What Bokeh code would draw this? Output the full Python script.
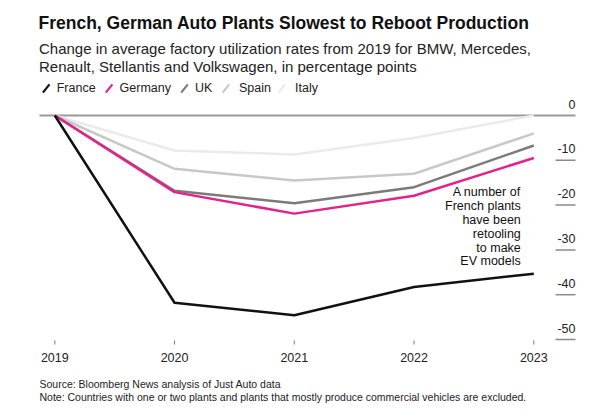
from bokeh.plotting import figure
from bokeh.models import (ColumnDataSource, Label, Legend, LegendItem, Range1d, Arrow)
from bokeh.core.properties import value
from bokeh.embed import file_html
from bokeh.resources import INLINE

# ---- data ----
years = [2019, 2020, 2021, 2022, 2023]
year_labels = ["2019", "2020", "2021", "2022", "2023"]
france = [0, -41.8, -44.6, -38.3, -35.3]
germany = [0, -17.1, -21.9, -17.9, -9.5]
uk = [0, -16.8, -19.6, -16.0, -6.7]
spain = [0, -11.9, -14.5, -13.0, -4.0]
italy = [0, -7.8, -8.7, -5.0, 0.0]
y_ticks = [0, -10, -20, -30, -40, -50]
y_tick_labels = ["0", "-10", "-20", "-30", "-40", "-50"]

series = [
    ("Italy", italy, "#ebebeb"),
    ("Spain", spain, "#c8c8c8"),
    ("UK", uk, "#7b7b7b"),
    ("Germany", germany, "#e2238c"),
    ("France", france, "#111111"),
]
colors = {n: c for n, _, c in series}

FONT = "Liberation Sans, Arial, sans-serif"

W, H = 613, 416
# pixel geometry of the plotting area
x0_px, ppy = 54.3, 119.75      # screen x of 2019, px per year
y0_px, ppu = 115.0, 4.48       # screen y of zero, px per percentage point
left_px, right_px = 39.0, 575.0
axis_px = 340.0

def xd(px):
    return 2019 + (px - x0_px) / ppy

def yd(px):
    return -(px - y0_px) / ppu

p = figure(width=W, height=H, output_backend="svg", toolbar_location=None,
           x_range=Range1d(xd(0), xd(W)), y_range=Range1d(yd(H), yd(0)),
           min_border=0, min_border_left=0, min_border_right=0,
           min_border_top=0, min_border_bottom=0, outline_line_color=None,
           background_fill_color="white", border_fill_color="white")
p.grid.visible = False
p.xaxis.visible = False
p.yaxis.visible = False

x_left, x_right = xd(left_px), xd(right_px)
y_axis = yd(axis_px)

# zero line
p.segment(x0=[x_left], y0=[0], x1=[x_right], y1=[0], line_color="#9a9a9a",
          line_width=1.8)

# y tick stubs and labels
stub_src = ColumnDataSource(dict(y=y_ticks[1:],
                                 x0=[xd(right_px - 20)] * (len(y_ticks) - 1),
                                 x1=[x_right] * (len(y_ticks) - 1)))
p.segment(x0="x0", y0="y", x1="x1", y1="y", source=stub_src,
          line_color="#8a8a8a", line_width=1.5)
lab_src = ColumnDataSource(dict(y=y_ticks, t=y_tick_labels, x=[x_right] * len(y_ticks)))
p.text(x="x", y="y", text="t", source=lab_src, text_align="right",
       text_baseline="alphabetic", y_offset=-11.5, text_font=value(FONT),
       text_font_size="12.5px", text_color="#222222")

# x axis ticks and labels
xt_src = ColumnDataSource(dict(x=years, t=year_labels,
                               y0=[y_axis] * len(years),
                               y1=[yd(axis_px + 4)] * len(years)))
p.segment(x0="x", y0="y0", x1="x", y1="y1", source=xt_src,
          line_color="#777777", line_width=1)
p.text(x="x", y="y0", text="t", source=xt_src, text_align="center",
       text_baseline="middle", y_offset=17, text_font=value(FONT),
       text_font_size="12.5px", text_color="#222222")

legend_items = {}
for name, vals, color in series:
    src = ColumnDataSource(dict(x=years, y=vals))
    p.line("x", "y", source=src, line_color=color, line_width=2.5,
           line_join="round")
    sc = p.scatter("x", "y", source=src, marker="dash", size=8,
                   line_color=color, line_alpha=0, fill_color=None, visible=False)
    legend_items[name] = sc

order = ["France", "Germany", "UK", "Spain", "Italy"]
legend_cy = 88
legend = Legend(items=[LegendItem(label=n, renderers=[legend_items[n]]) for n in order],
                location=(36.7, H - (legend_cy + 13)), orientation="horizontal",
                glyph_width=18, glyph_height=26, label_standoff=2, spacing=4,
                padding=0, margin=0, border_line_color=None,
                background_fill_alpha=0, label_text_font=FONT,
                label_text_font_size="12.5px", label_text_color="#222222",
                label_height=26)
p.add_layout(legend, "center")

# diagonal legend swatches drawn over the (transparent) legend glyph slots
slash_cx = [45.7, 108.6, 184.0, 225.4, 281.4]
for name, cx in zip(order, slash_cx):
    p.add_layout(Arrow(end=None, x_start=cx - 3.3, y_start=H - (legend_cy + 4.1),
                       x_end=cx + 3.3, y_end=H - (legend_cy - 4.1),
                       start_units="screen", end_units="screen",
                       line_color=colors[name], line_width=2.2))

note = Label(x=2023, y=yd(184.7), x_offset=-13,
             text="A number of\nFrench plants\nhave been\nretooling\nto make\nEV models",
             text_align="right", text_baseline="top", text_line_height=0.99,
             text_font=FONT, text_font_size="12.5px", text_color="#111111")
p.add_layout(note)

def slabel(txt, x, baseline_px, size, style="normal", color="#111111"):
    p.add_layout(Label(x=x, y=H - baseline_px, x_units="screen", y_units="screen",
                       text=txt, text_font=FONT, text_font_size=size,
                       text_font_style=style, text_color=color,
                       text_baseline="alphabetic", text_align="left"))

slabel("French, German Auto Plants Slowest to Reboot Production", 38, 22, "17.5px", "bold")
slabel("Change in average factory utilization rates from 2019 for BMW, Mercedes,", 38.5, 48, "15px", color="#222222")
slabel("Renault, Stellantis and Volkswagen, in percentage points", 38.5, 66, "15px", color="#222222")
slabel("Source: Bloomberg News analysis of Just Auto data", 39, 383, "10.5px", color="#222222")
slabel("Note: Countries with one or two plants and plants that mostly produce commercial vehicles are excluded.", 39, 396, "10.5px", color="#222222")

open("out.html", "w").write(file_html(p, INLINE))
